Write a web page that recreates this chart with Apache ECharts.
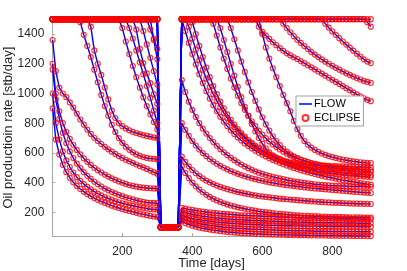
<!DOCTYPE html>
<html><head><meta charset="utf-8">
<script src="https://cdn.jsdelivr.net/npm/echarts@6/dist/echarts.min.js"></script>
<style>html,body{margin:0;padding:0;background:#fff}#c{width:407px;height:271px}</style>
</head><body><div id="c"></div>
<script>
// Time axis (days)
const days = [1,10,20,30,40,50,60,70,80,90,100,110,120,130,140,150,160,170,180,190,200,210,220,230,240,250,260,270,280,290,300,
  310,320,330,340,350,360,
  370,380,390,400,410,420,430,440,450,460,470,480,490,500,510,520,530,540,550,560,570,580,590,600,610,620,630,640,650,660,
  670,680,690,700,710,720,730,740,750,760,770,780,790,800,810,820,830,840,850,860,870,880,890,900,910];
const xTicks = [200,400,600,800];
const yTicks = [200,400,600,800,1000,1200,1400];

// Rates before the shut-in (days 1..300), stb/day
const preC = [1500,1500,1500,1500,1500,1500,1500,1500,1500,1500,1500,1500,1500,1500,1500,1500,1500,1500,1500,1500,1500,1500,1500,1500,1500,1500,1500,1500,1500,1500,1500];
const preD280 = [1500,1500,1500,1500,1500,1500,1500,1500,1500,1500,1500,1500,1500,1500,1500,1500,1500,1500,1500,1500,1500,1500,1500,1500,1500,1500,1500,1500,1500,1360,1230];
const preD270 = [1500,1500,1500,1500,1500,1500,1500,1500,1500,1500,1500,1500,1500,1500,1500,1500,1500,1500,1500,1500,1500,1500,1500,1500,1500,1500,1500,1500,1430,1370,1300];
const preD250 = [1500,1500,1500,1500,1500,1500,1500,1500,1500,1500,1500,1500,1500,1500,1500,1500,1500,1500,1500,1500,1500,1500,1500,1500,1500,1500,1420,1330,1240,1150,1060];
const preD236 = [1500,1500,1500,1500,1500,1500,1500,1500,1500,1500,1500,1500,1500,1500,1500,1500,1500,1500,1500,1500,1500,1500,1500,1500,1430,1300,1205,1135,1070,995,930];
const preD211 = [1500,1500,1500,1500,1500,1500,1500,1500,1500,1500,1500,1500,1500,1500,1500,1500,1500,1500,1500,1500,1500,1500,1440,1370,1290,1210,1130,1050,970,885,800];
const preD192 = [1500,1500,1500,1500,1500,1500,1500,1500,1500,1500,1500,1500,1500,1500,1500,1500,1500,1500,1500,1500,1440,1350,1265,1185,1110,1040,975,915,860,808,760];
const preD107 = [1500,1500,1500,1500,1500,1500,1500,1500,1500,1500,1500,1450,1290,1200,1125,1040,960,885,835,800,780,765,752,742,734,727,720,714,709,704,700];
const preD78 = [1500,1500,1500,1500,1500,1500,1500,1500,1480,1395,1320,1245,1160,1075,990,915,850,790,740,700,668,642,621,604,590,580,572,566,562,560,558];
const preX = [1360,1150,1040,1000,975,940,905,865,825,790,757,728,702,680,660,641,624,608,593,579,566,554,543,533,522,512,502,492,481,470,460];
const preY = [1200,1000,880,800,742,695,655,620,590,563,540,519,500,483,468,454,441,429,418,408,399,391,384,378,373,369,366,364,362,361,360];
const preL3 = [1160,960,830,735,665,610,565,528,497,470,446,425,406,389,374,360,348,337,327,318,309,301,294,287,281,275,270,266,264,263,262];
const preL2 = [1000,800,690,610,550,505,468,437,412,390,371,354,339,326,314,303,293,284,276,268,261,255,249,244,239,234,230,226,222,220,218];
const preL1 = [900,690,590,520,470,432,402,378,357,339,323,309,296,284,273,263,254,245,237,229,222,215,209,203,197,191,186,181,176,172,168];

// Shut-in period (days 310..360)
const shutIn = [100,100,100,100,100,100];

// Rates after the restart (days 370..910)
const postP1 = [1500,1500,1500,1500,1500,1500,1500,1500,1500,1500,1500,1500,1500,1500,1500,1500,1500,1500,1500,1500,1500,1500,1500,1500,1500,1500,1500,1500,1500,1500,1500,1500,1500,1500,1500,1500,1500,1500,1500,1500,1500,1500,1500,1500,1500,1500,1500,1500,1500,1500,1500,1500,1500,1500,1500];
const postP2 = [1500,1500,1500,1500,1500,1500,1500,1500,1500,1500,1500,1500,1500,1500,1500,1500,1500,1500,1500,1500,1500,1500,1500,1500,1500,1500,1500,1500,1500,1500,1500,1500,1500,1500,1500,1500,1500,1500,1500,1500,1500,1500,1500,1500,1500,1500,1500,1500,1500,1500,1500,1500,1500,1480,1450];
const postP3 = [1500,1500,1500,1500,1500,1500,1500,1500,1500,1500,1500,1500,1500,1500,1500,1500,1500,1500,1500,1500,1500,1500,1500,1500,1500,1500,1500,1500,1500,1500,1500,1500,1500,1500,1500,1500,1500,1500,1500,1500,
  1500,1470,1443,1418,1395,1372,1350,1329,1308,1288,1268,1249,1230,1215,1205];
const postP4 = [1500,1500,1500,1500,1500,1500,1500,1500,1500,1500,1500,1500,1500,1500,1500,1500,1500,1500,1500,1500,1500,1500,1500,1500,1500,1500,1500,1500,1500,1470,
  1440,1412,1386,1362,1340,1319,1299,1280,1262,1245,1229,1214,1200,1186,1173,1160,1148,1136,1125,1114,1104,1094,1085,1078,1072];
const postP5 = [1500,1500,1500,1500,1500,1500,1500,1500,1500,1500,1500,1500,1500,1500,1500,1500,1500,1500,1500,1500,1500,1500,1450,1415,1390,1367,1345,1325,1305,1287,
  1270,1256,1244,1232,1218,1204,1190,1176,1162,1148,1134,1120,1106,1092,1078,1064,1050,1036,1022,1008,994,981,968,957,948];
const postP6 = [1500,1500,1500,1500,1500,1500,1500,1500,1500,1500,1500,1500,1500,1500,1500,1500,1500,1500,1500,1500,1500,1500,1500,1400,1310,1235,1170,1110,1050,990,
  935,880,815,760,715,680,655,635,620,607,596,587,579,572,566,560,555,551,547,543,540,537,535,533,531];
const postS470 = [1500,1500,1500,1500,1500,1500,1500,1500,1500,1500,1500,1440,1360,1280,1200,1120,1045,975,910,850,
  795,745,700,662,630,604,584,568,556,547,540,535,531,528,525,523,521,519,517,516,515,514,513,512,511,510,509,508,507,506,505,505,504,504,503];
const postS500 = [1500,1500,1500,1500,1500,1500,1500,1500,1500,1500,1500,1500,1500,1500,1440,1365,1290,1215,1145,1075,
  1010,950,893,840,792,750,712,680,652,628,608,591,577,565,555,546,539,532,526,521,516,512,508,505,502,499,497,495,493,491,490,488,487,486,485];
const postS455 = [1500,1500,1500,1500,1500,1500,1500,1500,1500,1470,1390,1310,1235,1165,1100,1040,985,935,890,850,
  813,780,750,723,699,677,657,639,623,608,595,583,572,562,553,545,537,530,524,518,512,507,502,498,494,490,487,484,481,479,477,476,475,474,473];
const postS400 = [1500,1500,1500,1480,1400,1320,1245,1175,1110,1050,995,945,900,860,823,790,760,733,709,687,
  667,649,633,618,604,591,579,568,558,549,541,533,526,519,513,507,502,497,492,488,484,480,477,474,471,468,466,464,462,460,458,456,454,452,450];
const postS385 = [1500,1500,1450,1370,1295,1225,1160,1100,1045,995,950,908,870,835,803,774,747,722,699,678,
  659,641,625,610,596,583,571,560,550,541,532,524,517,510,503,497,491,486,481,476,472,468,465,462,459,456,453,451,449,447,445,443,441,439,437];
const postS370 = [1500,1420,1340,1265,1195,1130,1070,1015,965,920,880,843,810,780,752,727,704,683,664,646,
  630,615,601,588,576,564,553,543,533,524,515,507,499,491,484,477,470,464,458,452,446,441,436,431,426,421,417,413,409,405,401,397,394,390,387];
const postR1090 = [1090,1010,945,890,842,800,763,730,700,673,648,625,604,585,567,551,536,522,509,497,
  486,476,467,459,452,445,439,433,428,423,418,413,409,405,401,398,395,392,389,387,385,383,381,380,379,378,377,376,375,374,374,373,373,372,372];
const postR800 = [800,755,715,680,650,623,599,578,559,542,527,513,500,489,478,468,459,451,443,436,
  429,423,417,412,407,402,398,394,390,386,383,380,377,374,371,368,366,363,361,359,357,355,353,351,349,347,345,343,341,339,337,335,333,331,330];
const postR575 = [575,540,510,485,463,444,428,414,401,390,380,371,363,356,349,343,337,332,327,322,
  318,314,310,307,304,301,298,295,292,290,288,286,284,282,280,278,276,274,273,271,270,268,267,265,264,263,262,261,260,259,258,258,257,257,256];
const postR510 = [510,465,430,400,375,353,335,318,304,291,280,270,261,253,246,240,234,229,224,219,
  215,211,207,204,201,198,195,192,190,188,186,184,182,180,178,177,176,175,174,173,172,171,170,170,169,169,168,168,167,167,166,166,165,165,165];
const postB1 = [230,225,220,216,212,208,205,202,199,196,194,192,190,188,186,184,182,180,179,178,
  177,176,175,174,173,172,171,170,169,168,167,166,165,164,164,163,163,162,162,161,161,160,160,159,159,158,158,157,157,156,156,155,155,154,153];
const postB2 = [205,198,192,187,182,178,174,171,168,165,162,160,158,156,154,152,150,149,148,147,
  146,145,144,143,142,141,140,139,138,137,136,135,135,134,134,133,133,132,132,131,131,130,130,130,129,129,129,128,128,128,127,127,127,126,126];
const postB3 = [180,172,165,159,154,150,146,143,140,137,134,132,130,128,126,124,122,121,120,119,
  118,117,116,115,114,113,112,112,111,111,110,110,109,109,108,108,107,107,107,106,106,106,105,105,105,105,104,104,104,104,104,103,103,103,103];
const postB4 = [160,150,142,135,129,124,120,116,112,109,106,103,100,98,96,94,92,90,89,88,
  87,86,85,84,83,82,81,80,79,78,77,77,76,76,75,75,74,74,73,73,73,72,72,72,71,71,71,70,70,70,70,69,69,69,69];
const postB5 = [140,128,118,110,103,97,92,88,84,80,77,74,71,68,66,64,62,60,58,57,
  56,55,54,53,52,51,50,50,49,49,48,48,47,47,46,46,45,45,45,44,44,44,43,43,43,42,42,42,42,41,41,41,41,40,40];

const wellParts = [
  [preC, postP1], [preC, postP2], [preC, postP3], [preC, postP4], [preC, postP5],
  [preD280, postP6], [preD270, postS470], [preD250, postS500], [preC, postS455], [preD236, postS400],
  [preC, postS385], [preC, postS370], [preD211, postR1090], [preD192, postR800], [preD107, postR575],
  [preD78, postR510], [preX, postB1], [preY, postB2], [preL3, postB3], [preL2, postB4], [preL1, postB5]
];
const wells = wellParts.map(p => p[0].concat(shutIn, p[1]));

const font = '"Liberation Sans", Arial, Helvetica, sans-serif';
const axisGrey = '#a8a8a8';
const series = [];
wells.forEach(w => {
  series.push({
    type: 'line', name: 'FLOW', data: days.map((d, i) => [d, w[i]]),
    symbol: 'none', clip: false, z: 2,
    lineStyle: { color: '#0000ff', width: 1.4 }, itemStyle: { color: '#0000ff' }
  });
});
wells.forEach(w => {
  series.push({
    type: 'scatter', name: 'ECLIPSE', data: days.map((d, i) => [d, w[i]]),
    symbol: 'circle', symbolSize: 5, clip: false, z: 3,
    itemStyle: { color: 'rgba(255,255,255,0)', borderColor: '#ff0000', borderWidth: 1.2 }
  });
});

const chart = echarts.init(document.getElementById('c'), null, { renderer: 'canvas' });
chart.setOption({
  animation: false,
  backgroundColor: '#ffffff',
  grid: { left: 52.3, top: 19.2, width: 318.5, height: 216.9, containLabel: false, outerBoundsMode: 'none' },
  xAxis: {
    type: 'value', min: 0, max: 910, interval: 200,
    name: 'Time [days]', nameLocation: 'middle', nameGap: 21, nameMoveOverlap: false,
    nameTextStyle: { fontSize: 13, color: '#262626', fontFamily: font },
    axisLine: { lineStyle: { color: axisGrey, width: 1 } },
    axisTick: { inside: true, length: 3, customValues: xTicks, lineStyle: { color: axisGrey } },
    axisLabel: { fontSize: 12, color: '#262626', margin: 10, fontFamily: font, customValues: xTicks,
      formatter: v => String(v) },
    splitLine: { show: false }
  },
  yAxis: {
    type: 'value', min: 40, max: 1500,
    name: 'Oil productioin rate [stb/day]', nameLocation: 'middle', nameGap: 37, nameMoveOverlap: false,
    nameTextStyle: { fontSize: 13, color: '#262626', fontFamily: font },
    axisLine: { lineStyle: { color: axisGrey, width: 1 } },
    axisTick: { inside: true, length: 3, customValues: yTicks, lineStyle: { color: axisGrey } },
    axisLabel: { fontSize: 12, color: '#262626', margin: 8, fontFamily: font, customValues: yTicks,
      formatter: v => String(v) },
    splitLine: { show: false }
  },
  legend: {
    left: 296, top: 96, orient: 'vertical',
    padding: [2, 3, 2, 3], itemGap: 2, itemWidth: 13, itemHeight: 6,
    borderColor: '#a0a0a0', borderWidth: 1, backgroundColor: '#ffffff',
    textStyle: { fontSize: 11, color: '#000', fontFamily: font, lineHeight: 12, padding: [0, 0, 0, -3] },
    data: [
      { name: 'FLOW', icon: 'path://M0,0 L26,0 L26,3 L0,3 Z' },
      { name: 'ECLIPSE', icon: 'circle' }
    ]
  },
  series: series
});
</script></body></html>
